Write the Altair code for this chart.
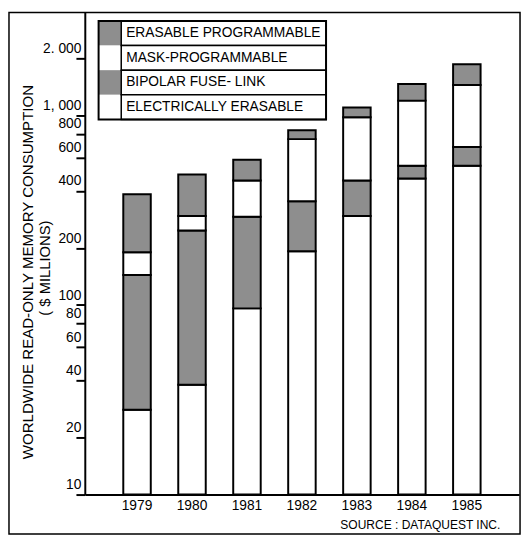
import altair as alt
import pandas as pd

# ---- data (values in $ millions) ----
years = ["1979", "1980", "1981", "1982", "1983", "1984", "1985"]
# stacking order bottom -> top
electrically_erasable = [28, 38, 96, 192, 295, 465, 543]
bipolar_fuse_link = [116, 209, 196, 161, 159, 78, 139]
mask_programmable = [46, 48, 162, 397, 523, 654, 767]
erasable_programmable = [194, 193, 130, 86, 123, 269, 413]

series_names = ["ELECTRICALLY ERASABLE", "BIPOLAR FUSE-LINK",
                "MASK-PROGRAMMABLE", "ERASABLE PROGRAMMABLE"]
legend_labels = ["ERASABLE PROGRAMMABLE", "MASK-PROGRAMMABLE",
                 "BIPOLAR FUSE- LINK", "ELECTRICALLY ERASABLE"]
legend_series = ["ERASABLE PROGRAMMABLE", "MASK-PROGRAMMABLE",
                 "BIPOLAR FUSE-LINK", "ELECTRICALLY ERASABLE"]
series_colors = ["#ffffff", "#8e8e8e", "#ffffff", "#8e8e8e"]

tick_values = [10, 20, 40, 60, 80, 100, 200, 400, 600, 800, 1000, 2000]
tick_labels = ["10", "20", "40", "60", "80", "100", "200", "400", "600", "800", "1, 000", "2. 000"]

Y_FLOOR = 10
Y_TOP = 3510

FONT = "Liberation Sans"

# ---- build stacked table ----
rows = []
all_series = [electrically_erasable, bipolar_fuse_link, mask_programmable, erasable_programmable]
for i, yr in enumerate(years):
    cum = 0
    for name, vals in zip(series_names, all_series):
        lo = cum
        cum += vals[i]
        rows.append({"year": yr, "series": name, "lo": max(lo, Y_FLOOR), "hi": cum})
df = pd.DataFrame(rows)

label_map = "{" + ", ".join(f"'{v}': '{l}'" for v, l in zip(tick_values, tick_labels)) + "}"

W, H = 441, 490

bars = alt.Chart(df).mark_bar(stroke="black", strokeWidth=2, strokeJoin="miter").encode(
    x=alt.X("year:N", sort=years,
            scale=alt.Scale(paddingInner=0.5, paddingOuter=0.7),
            axis=alt.Axis(title=None, ticks=False, labelAngle=0, labelPadding=4,
                          labelFontSize=14, labelFont=FONT, labelColor="black",
                          domainColor="black", domainWidth=2)),
    y=alt.Y("lo:Q",
            scale=alt.Scale(type="log", domain=[Y_FLOOR, Y_TOP], nice=False),
            axis=alt.Axis(title=None, values=tick_values, grid=False,
                          labelExpr=f"{label_map}[datum.value] || ''",
                          tickSize=9, tickWidth=2, tickColor="black",
                          domainColor="black", domainWidth=2,
                          labelPadding=-5, labelOffset=-6, labelBaseline="alphabetic",
                          labelFontSize=14, labelFont=FONT, labelColor="black")),
    y2="hi:Q",
    fill=alt.Color("series:N", scale=alt.Scale(domain=series_names, range=series_colors), legend=None),
)

# ---- outer frame ----
frame = alt.Chart(pd.DataFrame({"a": [0]})).mark_rect(
    fill=None, stroke="black", strokeWidth=1.5
).encode(x=alt.value(-77), x2=alt.value(442), y=alt.value(0.5), y2=alt.value(530))

# ---- custom legend ----
leg_df = pd.DataFrame({
    "series": legend_series,
    "label": legend_labels,
    "row": list(range(len(legend_series))),
})
leg_base = alt.Chart(leg_df).transform_calculate(
    top="9 + datum.row * 25", bot="9 + (datum.row + 1) * 25", mid="9 + datum.row * 25 + 12.5"
)
leg_swatch = leg_base.mark_rect(strokeWidth=0).encode(
    x=alt.value(14), x2=alt.value(37),
    y=alt.Y("top:Q", scale=None, axis=None), y2="bot:Q",
    fill=alt.Color("series:N", scale=alt.Scale(domain=series_names, range=series_colors), legend=None),
)
leg_cell = leg_base.mark_rect(fill="white", stroke="black", strokeWidth=1.5).encode(
    x=alt.value(37), x2=alt.value(245),
    y=alt.Y("top:Q", scale=None, axis=None), y2="bot:Q",
)
leg_text = leg_base.mark_text(align="left", baseline="middle", font=FONT, fontSize=14, color="black").encode(
    x=alt.value(42),
    y=alt.Y("mid:Q", scale=None, axis=None),
    text="label:N",
)
leg_box = alt.Chart(pd.DataFrame({"a": [0]})).mark_rect(
    fill=None, stroke="black", strokeWidth=2
).encode(x=alt.value(14), x2=alt.value(245), y=alt.value(9), y2=alt.value(109))

# ---- titles ----
title1 = alt.Chart(pd.DataFrame({"t": ["WORLDWIDE READ-ONLY MEMORY CONSUMPTION"]})).mark_text(
    angle=270, align="center", baseline="middle", font=FONT, fontSize=15.3, color="black"
).encode(x=alt.value(-58), y=alt.value(264), text="t:N")
title2 = alt.Chart(pd.DataFrame({"t": ["(  $  MILLIONS)"]})).mark_text(
    angle=270, align="center", baseline="middle", font=FONT, fontSize=15, color="black"
).encode(x=alt.value(-40), y=alt.value(260), text="t:N")
source = alt.Chart(pd.DataFrame({"t": ["SOURCE : DATAQUEST  INC."]})).mark_text(
    align="right", baseline="alphabetic", font=FONT, fontSize=12.2, color="black"
).encode(x=alt.value(422), y=alt.value(525), text="t:N")

chart = alt.layer(
    bars, frame, leg_swatch, leg_cell, leg_box, leg_text, title1, title2, source
).properties(
    width=W, height=H,
    autosize=alt.AutoSizeParams(type="none"),
    padding={"left": 78, "top": 0, "right": 4, "bottom": 42},
).configure_view(stroke=None).configure(background="white")

chart.save("out.html", embed_options={"renderer": "svg", "actions": False})
